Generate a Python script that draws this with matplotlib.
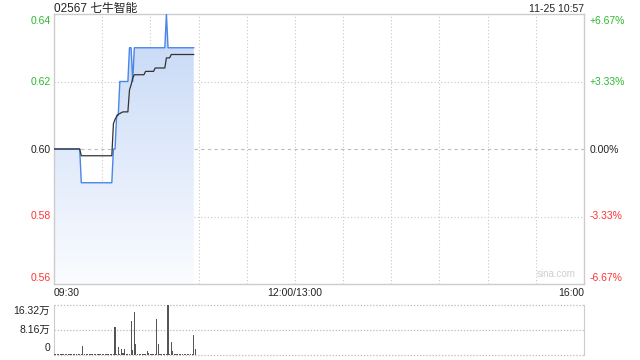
import matplotlib
matplotlib.use("Agg")
import matplotlib.pyplot as plt
import numpy as np
from matplotlib.colors import LinearSegmentedColormap

plt.rcParams['font.family'] = ['Liberation Sans', 'Noto Sans CJK SC', 'DejaVu Sans']

title = "02567 七牛智能"
stamp = "11-25 10:57"
prev_close = 0.60

# per-minute price (minute 0 = 09:30)
price = ([0.60] * 17 + [0.59] * 20 +
         [0.60, 0.60, 0.61, 0.61, 0.62, 0.62, 0.62, 0.62, 0.62, 0.62,
          0.63, 0.63, 0.62] +
         [0.63] * 20 + [0.64] + [0.63] * 17)
# per-minute average price
avg = ([0.60] * 17 + [0.598] * 20 +
       [0.6075, 0.6088, 0.6096, 0.6103, 0.6105, 0.6108, 0.611, 0.611, 0.611, 0.611,
        0.6175, 0.619, 0.621, 0.622] +
       [0.622] * 6 + [0.623] * 6 + [0.624] * 7 +
       [0.627, 0.627, 0.627] + [0.628] * 15)
# per-minute volume (万)
volume = [0.3, 0.1, 0.1, 0.1, 0.1, 0.1, 0.1, 0.1, 0.1, 0.1,
          0.1, 0.1, 0.1, 0.1, 0.1, 0.1, 0.1, 0.1, 2.76, 0.1,
          0.1, 0.1, 0.1, 0.1, 0.1, 0.1, 0.1, 0.1, 0.1, 0.1,
          0.1, 0.1, 0.1, 0.1, 0.1, 0.1, 0.1, 0.1, 9.15, 0.1,
          2.4, 0.1, 1.9, 0.5, 1.9, 0.3, 0.1, 0.1, 11.0, 1.5,
          14.0, 3.6, 0.3, 0.2, 0.1, 0.1, 0.1, 0.1, 1.1, 0.4,
          0.1, 0.1, 0.1, 0.1, 11.7, 3.6, 0.1, 0.1, 0.1, 0.1,
          0.1, 16.32, 0.1, 4.1, 1.1, 0.1, 0.1, 0.1, 0.1, 0.1,
          0.1, 0.1, 0.1, 0.1, 0.1, 0.1, 0.1, 6.4, 1.9]
vol_max = 16.32

price_ticks = [0.56, 0.58, 0.60, 0.62, 0.64]
price_labels = ["0.56", "0.58", "0.60", "0.62", "0.64"]
pct_labels = ["-6.67%", "-3.33%", "0.00%", "+3.33%", "+6.67%"]
x_labels = ["09:30", "12:00/13:00", "16:00"]
vol_labels = ["16.32万", "8.16万", "0"]

GREEN = "#2eb82e"
RED = "#ff3333"
BLACK = "#222222"
tick_colors = [RED, RED, BLACK, GREEN, GREEN]
GRID = "#c8c8c8"
SPINE = "#cccccc"
FS = 7.5

fig = plt.figure(figsize=(6.4, 3.6), dpi=100)
W, H = 640, 360
def rect(l, t, r, b):
    return [l / W, 1 - b / H, (r - l) / W, (b - t) / H]

ax = fig.add_axes(rect(54, 14, 584, 284))
axv = fig.add_axes(rect(54, 305, 584, 354.5))

N = 330
x = np.arange(len(price))
xa = np.arange(len(avg))
ax.set_xlim(0, N)
ax.set_ylim(0.56, 0.64)

# grid
for gx in range(30, N, 30):
    ax.axvline(gx, color=GRID, lw=0.8, ls=(0, (1, 2)), zorder=0)
for gy in [0.58, 0.62]:
    ax.axhline(gy, color=GRID, lw=0.8, ls=(0, (1, 2)), zorder=0)
ax.axhline(0.60, color="#bbbbbb", lw=0.8, ls=(0, (3, 3)), zorder=0)

# gradient fill under price line
cmap = LinearSegmentedColormap.from_list("g", ["#fbfcff", "#c4d7f6"])
grad = np.linspace(0, 1, 256).reshape(-1, 1)
poly = ax.fill_between(x, price, 0.56, color="none", lw=0)
im = ax.imshow(grad, aspect="auto", cmap=cmap, origin="lower",
               extent=[0, N, 0.56, 0.64], zorder=1)
path = poly.get_paths()[0]
im.set_clip_path(path, transform=ax.transData)

ax.plot(x, price, color="#4a86e8", lw=1.0, zorder=3)
ax.plot(xa, avg, color="#333333", lw=0.9, zorder=4)

ax.set_xticks([])
ax.set_yticks([])
for s in ax.spines.values():
    s.set_color(SPINE)
    s.set_linewidth(1)

# label vertical positions in pixels (centres)
label_py = [277.7, 216.0, 149.5, 81.7, 20.5]
for py, lab, pl, c in zip(label_py, price_labels, pct_labels, tick_colors):
    fy = 1 - py / H
    fig.text(51 / W, fy, lab, ha="right", va="center", fontsize=FS, color=c)
    fig.text(590 / W, fy, pl, ha="left", va="center", fontsize=FS, color=c)

# x labels
xl_y = 1 - 293.5 / H
fig.text(54 / W, xl_y, x_labels[0], ha="left", va="center", fontsize=FS, color=BLACK)
fig.text(295 / W, xl_y, x_labels[1], ha="center", va="center", fontsize=FS, color=BLACK)
fig.text(584 / W, xl_y, x_labels[2], ha="right", va="center", fontsize=FS, color=BLACK)

fig.text(54 / W, 1 - 12 / H, title, ha="left", va="baseline",
         fontsize=8.5, color=BLACK)
fig.text(584 / W, 1 - 11.5 / H, stamp, ha="right", va="baseline",
         fontsize=FS, color=BLACK)
ax.text(0.985, 0.02, "sina.com", transform=ax.transAxes, ha="right", va="bottom",
        fontsize=7, color="#cfcfcf")

# volume panel
xv = np.arange(len(volume))
axv.bar(xv, volume, width=0.7, color="#555555", zorder=3)
axv.set_xlim(0, N)
axv.set_ylim(0, vol_max)
for gy in [vol_max, vol_max / 2, 0]:
    axv.axhline(gy, color="#bbbbbb", lw=0.9, ls=(0, (1, 1.5)), zorder=1, clip_on=False)
axv.set_xticks([])
axv.set_yticks([])
axv.spines["top"].set_visible(False)
axv.spines["bottom"].set_visible(False)
axv.spines["left"].set_color(SPINE)
axv.spines["right"].set_color(SPINE)

for py, lab in zip([311.0, 329.5, 347.7], vol_labels):
    fig.text(50 / W, 1 - py / H, lab, ha="right", va="center", fontsize=FS, color=BLACK)

fig.savefig("out.png", dpi=100, facecolor="white")
